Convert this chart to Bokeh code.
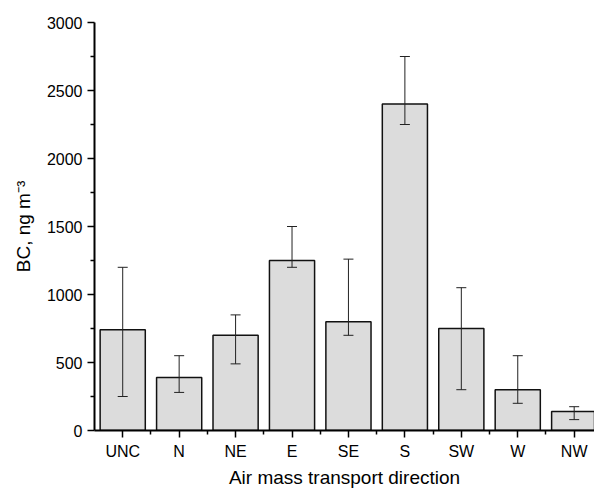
import numpy as np
from bokeh.plotting import figure
from bokeh.models import Range1d, FixedTicker, ColumnDataSource, Whisker
from bokeh.embed import file_html
from bokeh.resources import INLINE

categories = ["UNC", "N", "NE", "E", "SE", "S", "SW", "W", "NW"]
bc_mean = [740, 390, 700, 1250, 800, 2400, 750, 300, 140]
err_upper = [1200, 550, 850, 1500, 1260, 2750, 1050, 550, 175]
err_lower = [250, 280, 490, 1200, 700, 2250, 300, 200, 80]
y_ticks = [0, 500, 1000, 1500, 2000, 2500, 3000]

x = np.arange(len(categories)) + 0.5
src = ColumnDataSource(dict(x=x, top=bc_mean, upper=err_upper, lower=err_lower))

FONT = "Liberation Sans"

p = figure(width=594, height=490, output_backend="svg", toolbar_location=None,
           x_range=Range1d(0, 8.86), y_range=Range1d(0, 3000),
           min_border_left=94, min_border_right=0, min_border_top=22,
           min_border_bottom=60)
p.outline_line_color = None
p.grid.visible = False
p.background_fill_color = "white"
p.border_fill_color = "white"

p.vbar(x="x", top="top", width=0.8, bottom=0, source=src,
       fill_color="#dcdcdc", line_color="#111111", line_width=1.5)

w = Whisker(base="x", upper="upper", lower="lower", source=src,
            line_color="#222222", line_width=1, level="overlay")
w.upper_head.size = 10
w.lower_head.size = 10
w.upper_head.line_color = "#222222"
w.lower_head.line_color = "#222222"
p.add_layout(w)

xa = p.xaxis[0]
xa.ticker = FixedTicker(ticks=list(x), minor_ticks=list(np.arange(1, len(categories) + 1)))
xa.major_label_overrides = {float(v): c for v, c in zip(x, categories)}
xa.axis_label = "Air mass transport direction"

ya = p.yaxis[0]
ya.ticker = FixedTicker(ticks=y_ticks, minor_ticks=list(range(250, 3000, 500)))
ya.axis_label = "BC, ng m\u207b\u00b3"

for ax in (xa, ya):
    ax.axis_line_color = "black"
    ax.axis_line_width = 2
    ax.major_tick_line_color = "black"
    ax.major_tick_line_width = 1.5
    ax.minor_tick_line_color = "black"
    ax.minor_tick_line_width = 1.5
    ax.major_tick_in = 0
    ax.minor_tick_in = 0
    ax.major_tick_out = 7
    ax.minor_tick_out = 4
    ax.major_label_text_font = FONT
    ax.major_label_text_font_size = "16px"
    ax.major_label_text_color = "black"
    ax.axis_label_text_font = FONT
    ax.axis_label_text_font_size = "19px"
    ax.axis_label_text_font_style = "normal"
    ax.axis_label_text_color = "black"

xa.major_label_standoff = 5
xa.axis_label_standoff = 4
ya.major_label_standoff = 5
ya.axis_label_standoff = 10

open("out.html", "w").write(file_html(p, INLINE))
